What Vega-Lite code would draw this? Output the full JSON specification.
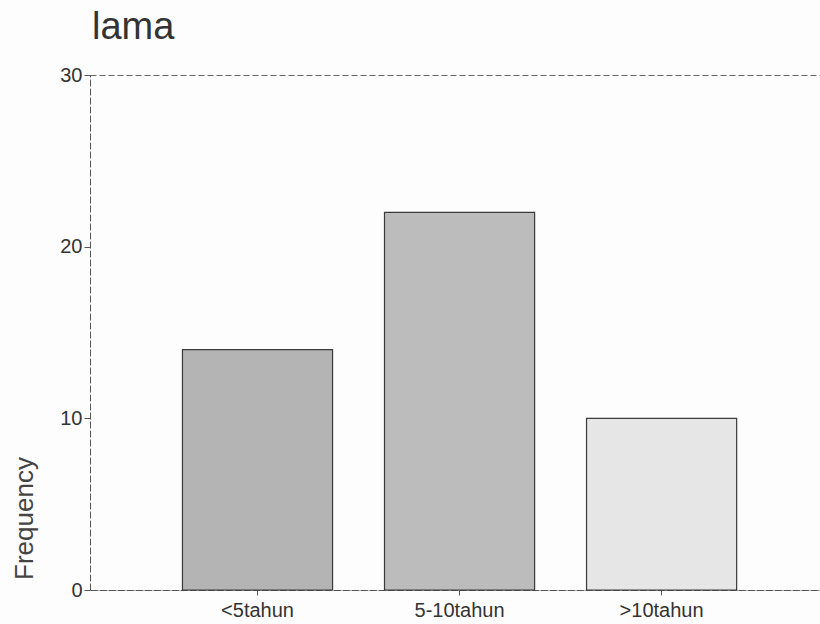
{
  "$schema": "https://vega.github.io/schema/vega-lite/v6.json",
  "width": 732,
  "height": 515,
  "autosize": {"type": "none"},
  "padding": {"left": 90, "top": 75, "right": 0, "bottom": 34},
  "background": "#fdfdfd",
  "title": {
    "text": "lama",
    "anchor": "start",
    "frame": "group",
    "dx": 2,
    "offset": 18,
    "fontSize": 38,
    "fontWeight": "normal",
    "font": "Liberation Sans",
    "color": "#333333"
  },
  "data": {
    "values": [
      {"lama": "<5tahun", "Frequency": 14},
      {"lama": "5-10tahun", "Frequency": 22},
      {"lama": ">10tahun", "Frequency": 10}
    ]
  },
  "mark": {"type": "bar", "stroke": "#3a3a3a", "strokeWidth": 1.2},
  "encoding": {
    "x": {
      "field": "lama",
      "type": "nominal",
      "sort": null,
      "scale": {"paddingInner": 0.257, "paddingOuter": 0.44, "align": 0.52},
      "axis": {
        "title": null,
        "labelAngle": 0,
        "labelFont": "Liberation Sans",
        "labelFontSize": 20,
        "labelColor": "#333333",
        "labelPadding": 5,
        "tickSize": 5,
        "tickColor": "#555555",
        "domainColor": "#555555",
        "domainDash": [6, 3]
      }
    },
    "y": {
      "field": "Frequency",
      "type": "quantitative",
      "scale": {"domain": [0, 30], "nice": false},
      "axis": {
        "values": [0, 10, 20, 30],
        "grid": false,
        "title": "Frequency",
        "titleFont": "Liberation Sans",
        "titleFontSize": 26,
        "titleFontWeight": "normal",
        "titleColor": "#444444",
        "titleAngle": -90,
        "titleAlign": "center",
        "titleBaseline": "top",
        "titleX": -79,
        "titleY": 443,
        "labelFont": "Liberation Sans",
        "labelFontSize": 20,
        "labelColor": "#333333",
        "labelPadding": 2,
        "tickSize": 6,
        "tickColor": "#555555",
        "domainColor": "#555555",
        "domainDash": [6, 3]
      }
    },
    "color": {
      "field": "lama",
      "type": "nominal",
      "legend": null,
      "scale": {
        "domain": ["<5tahun", "5-10tahun", ">10tahun"],
        "range": ["#b4b4b4", "#bcbcbc", "#e6e6e6"]
      }
    }
  },
  "config": {
    "view": {"stroke": "#666666", "strokeDash": [6, 3], "strokeWidth": 1}
  }
}
